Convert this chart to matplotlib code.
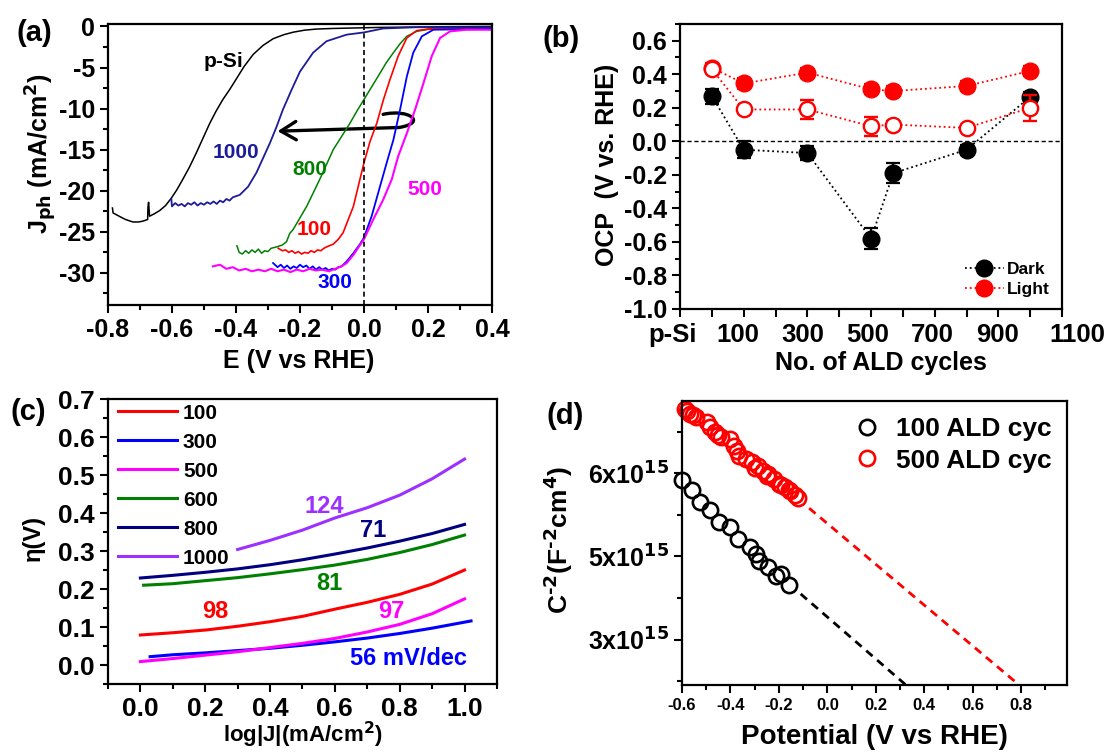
import matplotlib
matplotlib.use("Agg")
import matplotlib.pyplot as plt
from matplotlib.ticker import MultipleLocator, FixedLocator, FormatStrFormatter, NullFormatter
from matplotlib.path import Path
from matplotlib.patches import FancyArrowPatch
from matplotlib.lines import Line2D

plt.rcParams['font.family'] = ['Liberation Sans', 'DejaVu Sans']
plt.rcParams['font.weight'] = 'bold'
plt.rcParams['axes.unicode_minus'] = False
plt.rcParams['mathtext.default'] = 'bf'

# ---------------- data: panel (a) LSV ----------------
psi_E = [-0.786, -0.784, -0.765, -0.745, -0.722, -0.705, -0.691, -0.676, -0.675, -0.673, -0.670, -0.655,
         -0.638, -0.620, -0.602, -0.585, -0.566, -0.545, -0.524, -0.503, -0.482, -0.462, -0.441, -0.420,
         -0.399, -0.375, -0.346, -0.315, -0.284, -0.250, -0.221, -0.185, -0.148, -0.10, -0.044, 0.05,
         0.15, 0.25, 0.40]
psi_J = [-22.1, -22.7, -23.1, -23.5, -23.8, -23.8, -23.7, -23.5, -22.0, -21.4, -23.1, -22.8,
         -22.4, -21.8, -20.9, -19.9, -18.6, -17.1, -15.4, -13.6, -11.8, -10.3, -8.9, -7.7,
         -6.4, -4.9, -3.4, -2.3, -1.5, -1.0, -0.7, -0.45, -0.32, -0.25, -0.2, -0.12,
         -0.08, -0.04, 0.0]

c1000_E = [-0.602, -0.60, -0.59, -0.58, -0.57, -0.56, -0.55, -0.54, -0.53, -0.52, -0.51, -0.50, -0.49,
           -0.48, -0.47, -0.46, -0.45, -0.44, -0.43, -0.42, -0.41, -0.388, -0.362, -0.336, -0.315,
           -0.294, -0.273, -0.253, -0.226, -0.200, -0.159, -0.117, -0.054, 0.0, 0.06, 0.165, 0.40]
c1000_J = [-21.0, -21.9, -21.5, -21.8, -21.6, -21.9, -21.5, -21.7, -21.4, -21.8, -21.5, -21.7, -21.4,
           -21.6, -21.3, -21.6, -21.2, -21.4, -21.0, -21.2, -20.8, -20.5, -19.5, -17.8, -16.0,
           -14.2, -12.2, -10.1, -7.7, -5.5, -3.2, -1.8, -1.0, -0.73, -0.25, -0.1, -0.1]

c800_E = [-0.397, -0.39, -0.38, -0.37, -0.36, -0.35, -0.34, -0.33, -0.32, -0.31, -0.30, -0.29, -0.28,
          -0.27, -0.255, -0.242, -0.232, -0.221, -0.200, -0.179, -0.159, -0.138, -0.117, -0.096,
          -0.070, -0.044, -0.022, 0.0, 0.025, 0.05, 0.07, 0.092, 0.113, 0.134, 0.165, 0.20, 0.40]
c800_J = [-26.7, -27.5, -27.7, -27.3, -27.6, -27.2, -27.5, -27.1, -27.6, -27.3, -27.4, -27.0, -26.9,
          -26.8, -26.6, -26.2, -25.2, -24.7, -23.3, -21.9, -20.3, -18.6, -16.8, -15.0,
          -13.4, -11.8, -10.3, -8.9, -7.3, -5.7, -4.4, -3.2, -2.1, -1.2, -0.6, -0.35, -0.3]

c100_E = [-0.268, -0.255, -0.245, -0.235, -0.225, -0.215, -0.205, -0.195, -0.185, -0.175, -0.165, -0.155,
          -0.145, -0.135, -0.125, -0.115, -0.096, -0.080, -0.065, -0.050, -0.033, -0.0125, 0.0, 0.019,
          0.040, 0.061, 0.081, 0.107, 0.134, 0.165, 0.207, 0.40]
c100_J = [-27.0, -27.3, -27.2, -27.5, -27.3, -27.6, -27.4, -27.7, -27.5, -27.6, -27.3, -27.5,
          -27.2, -27.3, -27.0, -26.8, -26.5, -25.9, -25.1, -23.6, -21.9, -18.6, -16.6, -14.0,
          -11.8, -8.9, -6.5, -3.6, -1.4, -0.5, -0.3, -0.3]

c300_E = [-0.284, -0.27, -0.26, -0.25, -0.24, -0.23, -0.22, -0.21, -0.20, -0.19, -0.18, -0.17, -0.16,
          -0.15, -0.14, -0.13, -0.12, -0.11, -0.10, -0.09, -0.08, -0.07, -0.054, -0.033, -0.0125, 0.0,
          0.024, 0.05, 0.071, 0.092, 0.113, 0.134, 0.154, 0.181, 0.217, 0.40]
c300_J = [-28.8, -29.3, -29.0, -29.4, -29.1, -29.5, -29.2, -29.4, -29.0, -29.3, -29.1, -29.5, -29.2,
          -29.6, -29.3, -29.6, -29.4, -29.7, -29.5, -29.6, -29.3, -29.2, -28.6, -27.6, -26.5, -25.7,
          -23.1, -19.5, -16.6, -13.8, -10.1, -6.1, -3.2, -1.2, -0.4, -0.3]

c500_E = [-0.472, -0.45, -0.43, -0.41, -0.39, -0.37, -0.35, -0.33, -0.31, -0.29, -0.27, -0.25, -0.23,
          -0.21, -0.19, -0.17, -0.15, -0.13, -0.11, -0.09, -0.07, -0.054, -0.033, 0.0, 0.029, 0.06,
          0.087, 0.107, 0.134, 0.16, 0.186, 0.212, 0.238, 0.269, 0.321, 0.40]
c500_J = [-29.2, -29.0, -29.5, -29.3, -29.7, -29.5, -29.8, -29.6, -29.8, -29.5, -29.8, -29.6, -29.9,
          -29.6, -29.8, -29.5, -29.7, -29.6, -29.8, -29.5, -29.2, -28.8, -27.8, -25.9, -23.5, -21.1,
          -18.6, -15.8, -13.0, -10.1, -6.9, -3.6, -1.4, -0.6, -0.4, -0.4]

# arrow annotation path (E, J)
arrow_pts = [(0.06, -10.7), (0.14, -10.0), (0.20, -11.7), (0.11, -12.3), (-0.27, -12.75)]

# ---------------- data: panel (b) OCP ----------------
cycles = [0, 100, 300, 500, 570, 800, 1000]
ocp_dark = [0.27, -0.05, -0.07, -0.58, -0.19, -0.05, 0.265]
ocp_dark_err = [0.045, 0.05, 0.04, 0.063, 0.058, 0.03, 0.03]
ocp_light = [0.44, 0.345, 0.41, 0.31, 0.30, 0.33, 0.42]
ocp_light_err = [0.03, 0.03, 0.03, 0.03, 0.03, 0.03, 0.03]
ocp_light2 = [0.43, 0.19, 0.19, 0.09, 0.10, 0.08, 0.20]
ocp_light2_err = [0.02, 0.02, 0.056, 0.058, 0.02, 0.02, 0.077]
b_tick_labels = ['p-Si', '100', '300', '500', '700', '900', '1100']
b_label_pos = [-122, 80, 285, 490, 692, 897, 1148]

# ---------------- data: panel (c) Tafel ----------------
taf_x = [0.0, 0.1, 0.2, 0.3, 0.4, 0.5, 0.6, 0.7, 0.8, 0.9, 1.0]
taf_100 = [0.079, 0.085, 0.092, 0.102, 0.114, 0.128, 0.147, 0.165, 0.186, 0.213, 0.25]
taf_300_x = [0.03, 0.1, 0.2, 0.3, 0.4, 0.5, 0.6, 0.7, 0.8, 0.9, 1.02]
taf_300 = [0.022, 0.027, 0.032, 0.038, 0.044, 0.052, 0.061, 0.071, 0.083, 0.097, 0.116]
taf_500 = [0.009, 0.017, 0.026, 0.035, 0.046, 0.057, 0.070, 0.087, 0.107, 0.135, 0.174]
taf_600_x = [0.01, 0.1, 0.2, 0.3, 0.4, 0.5, 0.6, 0.7, 0.8, 0.9, 1.0]
taf_600 = [0.21, 0.214, 0.222, 0.230, 0.240, 0.251, 0.263, 0.278, 0.296, 0.317, 0.342]
taf_800 = [0.229, 0.236, 0.244, 0.253, 0.264, 0.277, 0.292, 0.308, 0.326, 0.346, 0.37]
taf_1000_x = [0.3, 0.4, 0.5, 0.6, 0.7, 0.8, 0.9, 1.0]
taf_1000 = [0.304, 0.328, 0.355, 0.387, 0.414, 0.447, 0.49, 0.542]
taf_slopes = ['98', '56 mV/dec', '97', '81', '71', '124']

# ---------------- data: panel (d) Mott-Schottky ----------------
ms100_V = [-0.600, -0.559, -0.525, -0.484, -0.446, -0.401, -0.368, -0.318, -0.296, -0.281, -0.243,
           -0.213, -0.191, -0.160]
ms100_C = [5.92, 5.80, 5.65, 5.56, 5.42, 5.35, 5.21, 5.11, 5.03, 4.95, 4.87, 4.77, 4.79, 4.66]
ms500_V = [-0.589, -0.580, -0.567, -0.555, -0.544, -0.499, -0.484, -0.462, -0.439, -0.450, -0.401,
           -0.386, -0.375, -0.364, -0.334, -0.311, -0.288, -0.300, -0.266, -0.250, -0.243, -0.221,
           -0.198, -0.190, -0.175, -0.160, -0.153, -0.135, -0.123]
ms500_C = [6.77, 6.75, 6.71, 6.70, 6.67, 6.62, 6.55, 6.49, 6.43, 6.46, 6.41,
           6.33, 6.27, 6.21, 6.17, 6.13, 6.09, 6.06, 6.03, 5.97, 5.99, 5.93,
           5.87, 5.86, 5.83, 5.80, 5.79, 5.74, 5.70]
fit100_V = [-0.11, 0.335]
fit100_C = [4.55, 3.43]
fit500_V = [-0.075, 0.815]
fit500_C = [5.58, 3.40]
d_ytick_vals = [4e15, 5e15, 6e15]
d_ytick_labels = ['3x10$^{15}$', '5x10$^{15}$', '6x10$^{15}$']

# ---------------- figure ----------------
fig = plt.figure(figsize=(11.13, 7.56), dpi=100)
axA = fig.add_axes([0.0970, 0.5966, 0.3450, 0.3717])
axB = fig.add_axes([0.6110, 0.5913, 0.3432, 0.3770])
axC = fig.add_axes([0.0970, 0.0952, 0.3495, 0.3770])
axD = fig.add_axes([0.6128, 0.0939, 0.3459, 0.3757])


def style(ax, fs):
    for s in ax.spines.values():
        s.set_linewidth(1.6)
    ax.tick_params(which='both', direction='out', width=1.5, labelsize=fs)
    ax.tick_params(which='major', length=6)
    ax.tick_params(which='minor', length=3.5)
    ax.tick_params(top=False, right=False)
    for lab in ax.get_xticklabels() + ax.get_yticklabels():
        lab.set_fontweight('bold')


# ---- (a)
ax = axA
ax.plot(psi_E, psi_J, color='black', lw=1.1)
ax.plot(c1000_E, c1000_J, color='#1c1c9a', lw=1.3)
ax.plot(c800_E, c800_J, color='#008000', lw=1.1)
ax.plot(c100_E, c100_J, color='#ff0000', lw=1.2)
ax.plot(c300_E, c300_J, color='#0000ff', lw=1.3)
ax.plot(c500_E, c500_J, color='#ff00ff', lw=1.5)
ax.axvline(0.0, color='black', ls=(0, (3, 2)), lw=1.2)
codes = [Path.MOVETO, Path.CURVE4, Path.CURVE4, Path.CURVE4, Path.LINETO]
arr = FancyArrowPatch(path=Path(arrow_pts, codes), arrowstyle='->,head_length=0.5,head_width=0.3',
                      mutation_scale=22, lw=2.4, color='black', transform=ax.transData)
ax.add_patch(arr)
ax.text(-0.44, -4.3, 'p-Si', color='black', fontsize=15, ha='center', va='center')
ax.text(-0.40, -15.4, '1000', color='#1c1c9a', fontsize=15, ha='center', va='center')
ax.text(-0.17, -17.4, '800', color='#008000', fontsize=15, ha='center', va='center')
ax.text(-0.155, -24.7, '100', color='#ff0000', fontsize=15, ha='center', va='center')
ax.text(-0.09, -31.2, '300', color='#0000ff', fontsize=15, ha='center', va='center')
ax.text(0.19, -19.8, '500', color='#ff00ff', fontsize=15, ha='center', va='center')
ax.set_xlim(-0.8, 0.4)
ax.set_ylim(-33.9, 0.3)
ax.xaxis.set_major_locator(MultipleLocator(0.2))
ax.xaxis.set_minor_locator(MultipleLocator(0.1))
ax.xaxis.set_major_formatter(FormatStrFormatter('%.1f'))
ax.yaxis.set_major_locator(MultipleLocator(5))
ax.yaxis.set_minor_locator(MultipleLocator(2.5))
style(ax, 18)
ax.set_xlabel('E (V vs RHE)', fontsize=18, fontweight='bold', va='center')
ax.xaxis.set_label_coords(0.497, -0.20)
ax.set_ylabel('J$_{\\mathbf{ph}}$ (mA/cm$^{\\mathbf{2}}$)', fontsize=18, fontweight='bold', va='center')
ax.yaxis.set_label_coords(-0.174, 0.54)

# ---- (b)
ax = axB
ax.axhline(0.0, color='black', ls=(0, (3, 2)), lw=1.0, zorder=1)
ax.errorbar(cycles, ocp_dark, yerr=ocp_dark_err, color='black', ls=':', lw=1.3, marker='o', ms=12,
            capsize=5, elinewidth=1.6, capthick=1.6, zorder=3)
ax.errorbar(cycles, ocp_light, yerr=ocp_light_err, color='#ff0000', ls=':', lw=1.3, marker='o', ms=12,
            capsize=5, elinewidth=1.6, capthick=1.6, zorder=4)
ax.errorbar(cycles, ocp_light2, yerr=ocp_light2_err, color='#ff0000', ls=':', lw=1.3, marker='o', ms=11,
            mfc='white', mec='#ff0000', mew=1.7, capsize=5, elinewidth=1.6, capthick=1.6, zorder=5)
ax.set_xlim(-100, 1100)
ax.set_ylim(-1.0, 0.7)
ax.xaxis.set_major_locator(MultipleLocator(100))
ax.xaxis.set_major_formatter(NullFormatter())
ax.yaxis.set_major_locator(FixedLocator([-1.0, -0.8, -0.6, -0.4, -0.2, 0.0, 0.2, 0.4, 0.6]))
ax.yaxis.set_minor_locator(MultipleLocator(0.1))
ax.yaxis.set_major_formatter(FormatStrFormatter('%.1f'))
style(ax, 18)
for pos, lab in zip(b_label_pos, b_tick_labels):
    ax.text(pos, -0.05, lab, transform=ax.get_xaxis_transform(), ha='center', va='top',
            fontsize=18.5, fontweight='bold', clip_on=False)
ax.set_xlabel('No. of ALD cycles', fontsize=18, fontweight='bold', va='center')
ax.xaxis.set_label_coords(0.526, -0.19)
ax.set_ylabel('OCP  (V vs. RHE)', fontsize=18, fontweight='bold', va='center')
ax.yaxis.set_label_coords(-0.19, 0.505)
hd = [Line2D([], [], color='black', ls=':', lw=1.3, marker='o', ms=12),
      Line2D([], [], color='#ff0000', ls=':', lw=1.3, marker='o', ms=12)]
ax.legend(hd, ['Dark', 'Light'], loc='lower right', frameon=False,
          handlelength=2.2, handletextpad=0.2, borderaxespad=0.3, labelspacing=0.25,
          prop={'weight': 'bold', 'size': 12.5})

# ---- (c)
ax = axC
l1, = ax.plot(taf_x, taf_100, color='#ff0000', lw=2.2)
l2, = ax.plot(taf_300_x, taf_300, color='#0000ff', lw=2.2)
l3, = ax.plot(taf_x, taf_500, color='#ff00ff', lw=2.2)
l4, = ax.plot(taf_600_x, taf_600, color='#008000', lw=2.2)
l5, = ax.plot(taf_x, taf_800, color='#000080', lw=2.2)
l6, = ax.plot(taf_1000_x, taf_1000, color='#9b30ff', lw=2.2)
ax.legend([l1, l2, l3, l4, l5, l6], ['100', '300', '500', '600', '800', '1000'], loc='upper left',
          frameon=False, prop={'weight': 'bold', 'size': 15}, handlelength=2.8, handletextpad=0.3,
          borderaxespad=0.1, labelspacing=0.48, bbox_to_anchor=(0.0, 1.02))
ax.text(0.23, 0.14, taf_slopes[0], color='#ff0000', fontsize=17, ha='center', va='center')
ax.text(0.826, 0.018, taf_slopes[1], color='#0000ff', fontsize=17, ha='center', va='center')
ax.text(0.774, 0.14, taf_slopes[2], color='#ff00ff', fontsize=17, ha='center', va='center')
ax.text(0.582, 0.215, taf_slopes[3], color='#008000', fontsize=17, ha='center', va='center')
ax.text(0.717, 0.355, taf_slopes[4], color='#000080', fontsize=17, ha='center', va='center')
ax.text(0.567, 0.417, taf_slopes[5], color='#9b30ff', fontsize=17, ha='center', va='center')
ax.set_xlim(-0.1, 1.1)
ax.set_ylim(-0.05, 0.7)
ax.xaxis.set_major_locator(FixedLocator([0.0, 0.2, 0.4, 0.6, 0.8, 1.0]))
ax.xaxis.set_minor_locator(MultipleLocator(0.1))
ax.xaxis.set_major_formatter(FormatStrFormatter('%.1f'))
ax.yaxis.set_major_locator(FixedLocator([0.0, 0.1, 0.2, 0.3, 0.4, 0.5, 0.6, 0.7]))
ax.yaxis.set_minor_locator(MultipleLocator(0.05))
ax.yaxis.set_major_formatter(FormatStrFormatter('%.1f'))
style(ax, 19)
ax.set_xlabel('log|J|(mA/cm$^{\\mathbf{2}}$)', fontsize=16, fontweight='bold', va='center')
ax.xaxis.set_label_coords(0.50, -0.18)
ax.set_ylabel('η(V)', fontsize=17, fontweight='bold', va='center')
ax.yaxis.set_label_coords(-0.193, 0.512)

# ---- (d)
ax = axD
ax.plot(fit100_V, fit100_C, color='black', ls=(0, (3, 2.2)), lw=2.0)
ax.plot(fit500_V, fit500_C, color='#ff0000', ls=(0, (3, 2.2)), lw=2.0)
ax.plot(ms100_V, ms100_C, ls='none', marker='o', ms=11, mfc='none', mec='black', mew=1.9,
        label='100 ALD cyc', clip_on=False)
ax.plot(ms500_V, ms500_C, ls='none', marker='o', ms=11, mfc='none', mec='#ff0000', mew=1.9,
        label='500 ALD cyc', clip_on=False)
ax.set_xlim(-0.6, 0.99)
ax.set_ylim(3.456, 6.868)
ax.xaxis.set_major_locator(FixedLocator([-0.6, -0.4, -0.2, 0.0, 0.2, 0.4, 0.6, 0.8]))
ax.xaxis.set_minor_locator(MultipleLocator(0.1))
ax.xaxis.set_major_formatter(FormatStrFormatter('%.1f'))
ax.yaxis.set_major_locator(FixedLocator([v / 1e15 for v in d_ytick_vals]))
ax.set_yticklabels(d_ytick_labels)
ax.yaxis.set_minor_locator(FixedLocator([3.5, 4.5, 5.5, 6.5]))
style(ax, 18)
ax.tick_params(axis='x', labelsize=12)
ax.legend(loc='upper right', frameon=False, prop={'weight': 'bold', 'size': 19}, handletextpad=0.5,
          borderaxespad=0.2, labelspacing=0.3, handlelength=1.2)
ax.set_xlabel('Potential (V vs RHE)', fontsize=20, fontweight='bold', va='center')
ax.xaxis.set_label_coords(0.50, -0.183)
ax.set_ylabel('C$^{\\text{-}\\mathbf{2}}$(F$^{\\text{-}\\mathbf{2}}$cm$^{\\mathbf{4}}$)', fontsize=19,
              fontweight='bold', va='center')
ax.yaxis.set_label_coords(-0.322, 0.51)

# panel letters
fig.text(17 / 1113, 1 - 33 / 756, '(a)', fontsize=21, fontweight='bold', va='center')
fig.text(543 / 1113, 1 - 39 / 756, '(b)', fontsize=21, fontweight='bold', va='center')
fig.text(10 / 1113, 1 - 412 / 756, '(c)', fontsize=21, fontweight='bold', va='center')
fig.text(547 / 1113, 1 - 416 / 756, '(d)', fontsize=21, fontweight='bold', va='center')

fig.savefig('out.png', dpi=100)
